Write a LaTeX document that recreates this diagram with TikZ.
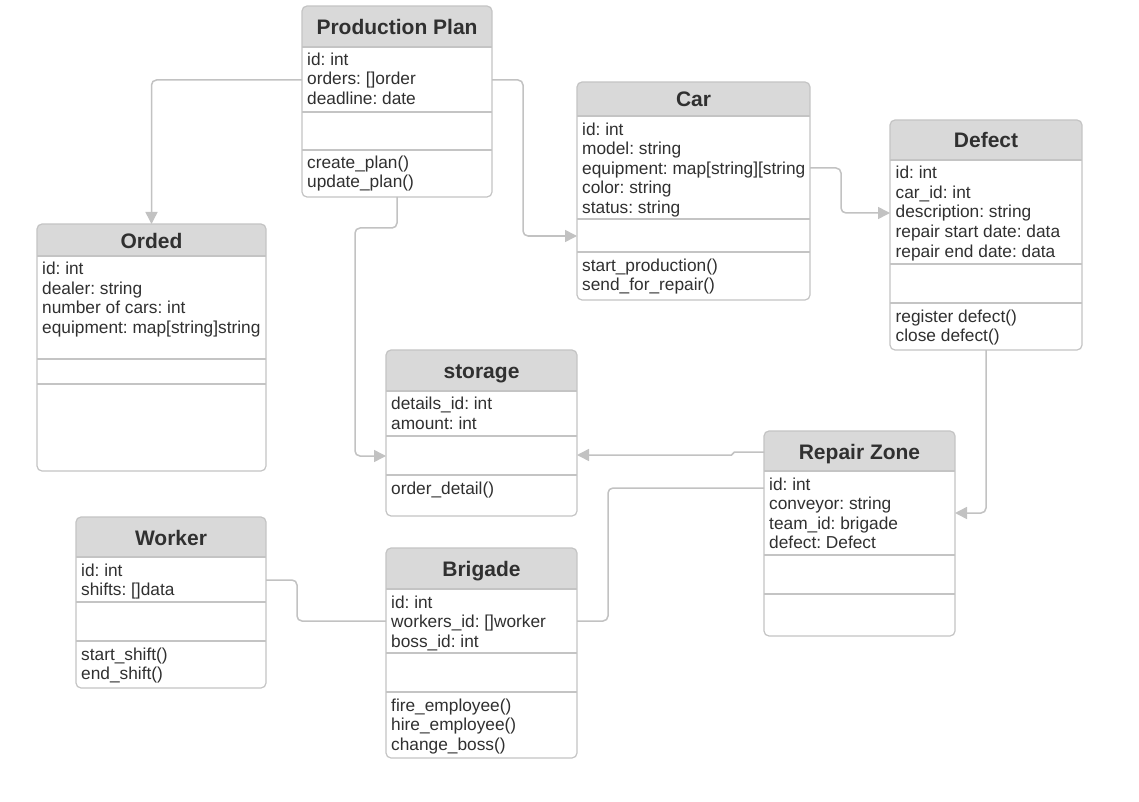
\documentclass[tikz,border=0pt]{standalone}
\usepackage{fontspec}
\setmainfont{Liberation Sans}
\usetikzlibrary{arrows.meta}
\frenchspacing
\definecolor{hdrfill}{HTML}{D9D9D9}
\definecolor{frameclr}{HTML}{C4C4C4}
\definecolor{connclr}{HTML}{C2C2C2}
\definecolor{txtclr}{HTML}{303030}
\newcommand\umlclass[9]{%
  \begin{scope}
    \clip[rounded corners=5] (#2,#3) rectangle (#4,#5);
    \fill[hdrfill] (#2,#3) rectangle (#4,#6);
  \end{scope}
  \draw[sepline] (#2,#6) -- (#4,#6) (#2,#7) -- (#4,#7) (#2,#8) -- (#4,#8);
  \node[boxframe, minimum width={(#4-#2)*1pt}, minimum height={(#5-#3)*1pt}, anchor=north west] (#1) at (#2,#3) {};
  \node[ttl, anchor=base] (#1-title) at ({(#2+#4)/2},{(#3+#6)/2+8}) {#9};
}
\newcommand\umllines[4]{%
  \foreach \itm [count=\i] in {#4} {\node[txt, anchor=base west] (#1-\i) at (#2,{#3+(\i-1)*19.5}) {\itm};}
}
\begin{document}
\begin{tikzpicture}[x=1pt,y=-1pt,
  boxframe/.style={draw=frameclr, line width=1.2pt, rounded corners=5, inner sep=0pt, outer sep=0pt},
  sepline/.style={draw=frameclr, line width=1.2pt},
  ttl/.style={text=txtclr, font=\fontsize{21}{24}\selectfont\bfseries, inner sep=0pt},
  txt/.style={text=txtclr, font=\fontsize{17.3}{19.5}\selectfont, inner sep=0pt},
  link/.style={draw=connclr, line width=1.5pt, rounded corners=5},
  arr/.style={-{Triangle[length=12pt,width=12pt]}, connclr}]
\fill[white] (0,0) rectangle (1139,802);
\useasboundingbox (0,0) rectangle (1139,802);

\umlclass{pp}{302}{6}{492}{197}{47}{112}{150}{Production Plan}
\umllines{pp-a}{307}{65.5}{id: int, orders: []order, deadline: date}
\umllines{pp-m}{307}{168.5}{create\_plan(), update\_plan()}

\umlclass{car}{577}{82}{810}{300}{116}{219}{252}{Car}
\umllines{car-a}{582}{135.5}{id: int, model: string, equipment: map[string][string, color: string, status: string}
\umllines{car-m}{582}{271}{start\_production(), send\_for\_repair()}

\umlclass{defect}{890}{120}{1082}{350}{160}{264}{303}{Defect}
\umllines{defect-a}{895.5}{179}{id: int, car\_id: int, description: string, repair start date: data, repair end date: data}
\umllines{defect-m}{895.5}{322}{register defect(), close defect()}

\umlclass{orded}{37}{224}{266}{471}{256}{359}{384}{Orded}
\umllines{orded-a}{42}{274.5}{id: int, dealer: string, number of cars: int, equipment: map[string]string}

\umlclass{storage}{386}{350}{577}{516}{391}{436}{475}{storage}
\umllines{storage-a}{391}{409.5}{details\_id: int, amount: int}
\umllines{storage-m}{391}{494}{order\_detail()}

\umlclass{rz}{764}{431}{955}{636}{471}{555}{594}{Repair Zone}
\umllines{rz-a}{769}{490}{id: int, conveyor: string, team\_id: brigade, defect: Defect}

\umlclass{worker}{76}{517}{266}{688}{557}{602}{641}{Worker}
\umllines{worker-a}{81}{576}{id: int, shifts: []data}
\umllines{worker-m}{81}{660}{start\_shift(), end\_shift()}

\umlclass{brigade}{386}{548}{577}{758}{589}{653}{692}{Brigade}
\umllines{brigade-a}{391}{608}{id: int, workers\_id: []worker, boss\_id: int}
\umllines{brigade-m}{391}{711}{fire\_employee(), hire\_employee(), change\_boss()}

% connectors
\draw[link, arr] ([yshift=-74pt]pp.north west) -| (orded.north);
\draw[link, arr] ([yshift=-74pt]pp.north east) -- ++(31,0) |- ([yshift=-154pt]car.north west);
\draw[link, arr] (pp.south) -- ++(0,31) -- ++(-42,0) |- ([yshift=-106pt]storage.north west);
\draw[link, arr] ([yshift=-86pt]car.north east) -- ++(31,0) |- ([yshift=-93pt]defect.north west);
\draw[link, arr] (defect.south) |- ([yshift=-82pt]rz.north east);
\draw[link, arr, rounded corners=1.5] ([yshift=-21pt]rz.north west) -- ++(-31,0) |- ([yshift=-105pt]storage.north east);
\draw[link] ([yshift=-57pt]rz.north west) -- ++(-156,0) |- ([yshift=-73pt]brigade.north east);
\draw[link] ([yshift=-63pt]worker.north east) -- ++(31,0) |- ([yshift=-73pt]brigade.north west);
\end{tikzpicture}
\end{document}
